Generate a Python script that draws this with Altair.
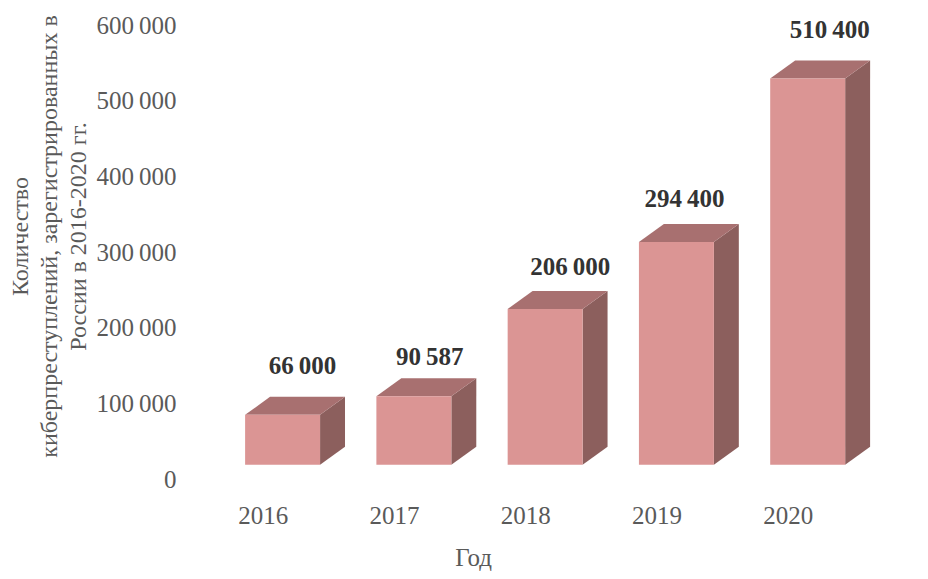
import altair as alt
import pandas as pd

years = [2016, 2017, 2018, 2019, 2020]
values = [66000, 90587, 206000, 294400, 510400]
y_ticks = [0, 100000, 200000, 300000, 400000, 500000, 600000]
y_title = ["Количество", "киберпреступлений, зарегистрированных в", "России в 2016-2020 гг."]
x_title = "Год"

FONT = "Liberation Serif"
GREY = "#5a5a5a"
FRONT, TOP, SIDE = "#DB9594", "#A87070", "#8C5F5D"
THIN = "\u2009"

# 3D look of the bars, in data units
SHIFT_X, HALF_W = 0.152, 0.2855
DEPTH_X, DEPTH_Y = 0.19, 23800
FLOOR = 18800

front, top_face, side_face, labels = [], [], [], []
for yr, v in zip(years, values):
    c = yr + SHIFT_X
    x0, x1 = c - HALF_W, c + HALF_W
    t = FLOOR + v
    front.append(dict(x=x0, x2=x1, y=FLOOR, y2=t))
    side_face += [
        dict(g=yr, x=x1, y=FLOOR, y2=t),
        dict(g=yr, x=x1 + DEPTH_X, y=FLOOR + DEPTH_Y, y2=t + DEPTH_Y),
    ]
    top_face += [
        dict(g=yr, x=x0, y=t, y2=t),
        dict(g=yr, x=x0 + DEPTH_X, y=t, y2=t + DEPTH_Y),
        dict(g=yr, x=x1, y=t, y2=t + DEPTH_Y),
        dict(g=yr, x=x1 + DEPTH_X, y=t + DEPTH_Y, y2=t + DEPTH_Y),
    ]
    labels.append(dict(x=c, y=t, text=f"{v:,}".replace(",", THIN)))

x_scale = alt.Scale(domain=[2015.5, 2021], nice=False, zero=False)
y_scale = alt.Scale(domain=[0, 600000], nice=False)

x_enc = alt.X(
    "x:Q", scale=x_scale, title=x_title,
    axis=alt.Axis(values=years, format="d", domain=False, ticks=False, grid=False,
                  labelFont=FONT, labelFontSize=25, labelColor=GREY, labelPadding=24,
                  labelFlush=False,
                  titleFont=FONT, titleFontSize=25, titleColor=GREY, titleFontWeight="normal",
                  titleX=276, titleY=66),
)
y_enc = alt.Y(
    "y:Q", scale=y_scale, title=y_title,
    axis=alt.Axis(values=y_ticks, domain=False, ticks=False, grid=False,
                  labelExpr=f"replace(format(datum.value, ','), /,/g, '{THIN}')",
                  labelFont=FONT, labelFontSize=25, labelColor=GREY, labelPadding=21,
                  titleFont=FONT, titleFontSize=24, titleColor=GREY, titleFontWeight="normal",
                  titleLineHeight=29, titleX=-165, titleY=211),
)

front_layer = alt.Chart(pd.DataFrame(front)).mark_bar(color=FRONT).encode(
    x=x_enc, x2="x2:Q", y=y_enc, y2="y2:Q")
side_layer = alt.Chart(pd.DataFrame(side_face)).mark_area(color=SIDE, opacity=1).encode(
    x="x:Q", y="y:Q", y2="y2:Q", detail="g:N")
top_layer = alt.Chart(pd.DataFrame(top_face)).mark_area(color=TOP, opacity=1).encode(
    x="x:Q", y="y:Q", y2="y2:Q", detail="g:N")

# hand placement of each data label, as in the source figure
label_nudges = [(20, -49), (16, -39), (25, -42), (8, -43), (22, -49)]
label_layers = [
    alt.Chart(pd.DataFrame([lab])).mark_text(
        font=FONT, fontSize=25, fontWeight="bold", color="#333333",
        baseline="middle", align="center", dx=dx, dy=dy,
    ).encode(x="x:Q", y="y:Q", text="text:N")
    for lab, (dx, dy) in zip(labels, label_nudges)
]

chart = alt.layer(side_layer, top_layer, front_layer, *label_layers).properties(
    width=722, height=454,
    padding={"left": 189, "top": 17, "right": 0, "bottom": 92},
    autosize=alt.AutoSizeParams(type="none"),
    background="white",
).configure_view(stroke=None)

chart.save("out.html", embed_options={"renderer": "svg", "actions": False})
